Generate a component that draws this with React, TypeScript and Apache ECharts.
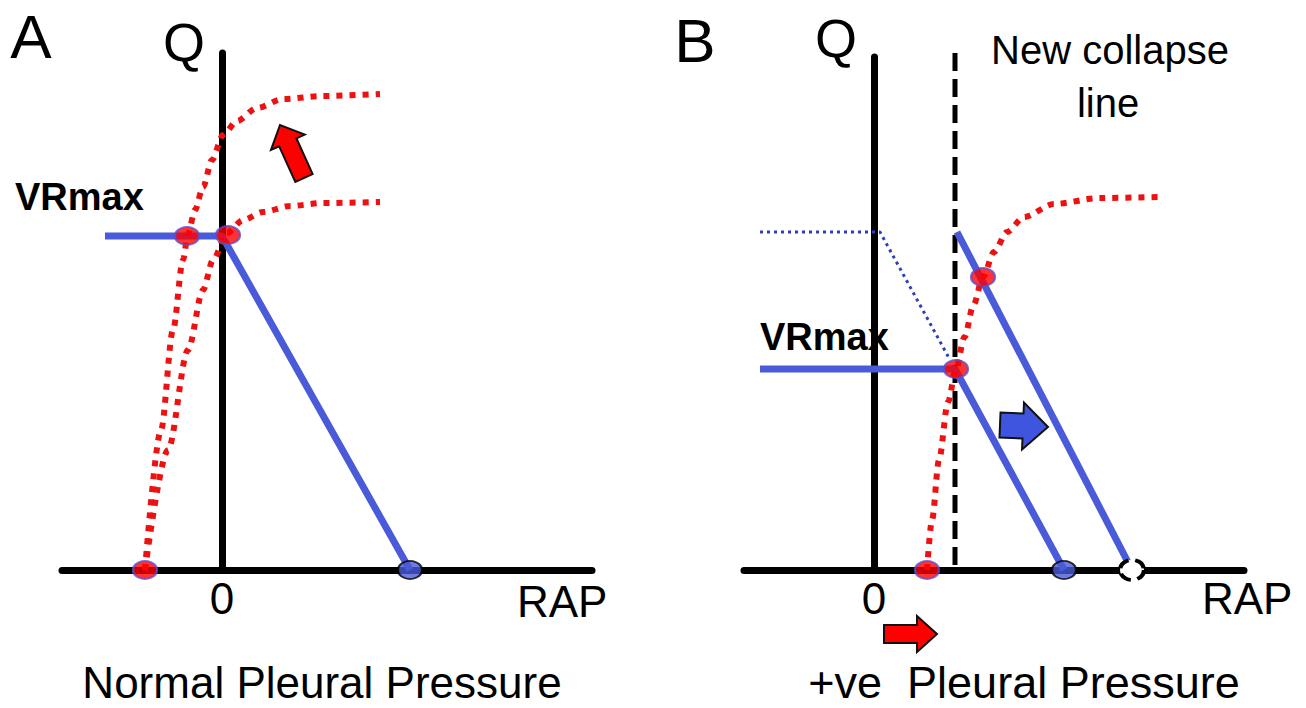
import React, { useEffect, useRef } from "react";
import * as echarts from "echarts";

const BLUE = "#4a5bd9";
const RED = "#ee1111";
const FONT = "'Liberation Sans', Arial, sans-serif";

// ---------- Panel A (units: RAP along x, Q along y) ----------
const aUpperCurve = [
  [-7.7, 0], [-6.1, 14], [-4.9, 24], [-3.9, 31], [-3.4, 33.6], [-2.7, 36],
  [-1.9, 38.3], [-1.0, 41], [0.1, 43.5], [1.5, 44.9], [3.5, 46.2], [6.1, 47.1], [10.1, 47.4], [15.8, 47.6],
];
const aLowerCurve = [
  [-7.7, 0], [-5.4, 12], [-3.4, 22], [-1.9, 28], [-0.9, 31], [0.5, 33.7], [2.1, 35],
  [4.1, 35.8], [6.8, 36.4], [10.1, 36.7], [15.8, 36.8],
];
const aVenousReturn = [[-11.7, 33.4], [0, 33.4], [18.8, 0]];
const aRedDots = [[-3.5, 33.4], [0.6, 33.5], [-7.7, 0]];
const aBlueDots = [[18.8, 0]];
const aArrowTail = [8.2, 39.2];
const aArrowTip = [5.8, 44.5];

// ---------- Panel B ----------
const bCollapseLine = [[8.1, 51.7], [8.1, 0]];
const bOldReturn = [[-11.4, 33.8], [0.6, 33.8], [7.5, 21.2]];
const bReturn1 = [[-11.4, 20.1], [8.1, 20.1], [19.0, 0]];
const bReturn2 = [[8.3, 33.8], [25.8, 0]];
const bCardiacCurve = [
  [5.3, 0], [5.8, 5], [6.5, 11], [7.4, 16.8], [8.2, 20.1], [9.05, 23.3], [9.95, 26.5], [10.9, 29.3],
  [12.0, 31.8], [13.3, 33.8], [15.0, 35.3], [18.0, 36.6], [22.6, 37.2], [28.6, 37.3],
];
const bRedDots = [[5.3, 0], [8.2, 20.1], [10.9, 29.3]];
const bBlueDots = [[19.0, 0]];
const bOpenDots = [[25.8, 0]];
const bBlueArrowTail = [12.6, 14.5];
const bBlueArrowTip = [17.4, 14.3];
const bRedArrowTail = [1.0, -6.4];
const bRedArrowTip = [6.3, -6.4];

const xTickLabels = ["0"];

function arrowPoly(t: number[], p: number[], shaftW: number, headW: number, headL: number) {
  const dx = p[0] - t[0], dy = p[1] - t[1];
  const L = Math.hypot(dx, dy);
  const ux = dx / L, uy = dy / L;
  const nx = -uy, ny = ux;
  const bx = p[0] - ux * headL, by = p[1] - uy * headL;
  const pt = (x: number, y: number, s: number) => [x + nx * s, y + ny * s];
  return [
    pt(t[0], t[1], shaftW / 2), pt(bx, by, shaftW / 2), pt(bx, by, headW / 2), [p[0], p[1]],
    pt(bx, by, -headW / 2), pt(bx, by, -shaftW / 2), pt(t[0], t[1], -shaftW / 2),
  ];
}

const dotted = (color: string, width: number, dash: number[]) => ({ color, width, type: dash, cap: "butt" });

export default function App() {
  const ref = useRef<HTMLDivElement>(null);
  useEffect(() => {
    if (!ref.current) return;
    const chart = echarts.init(ref.current, null, { renderer: "svg" });
    const axisLine = { show: true, onZero: true, lineStyle: { color: "#000", width: 7 } };
    const xLabel = {
      show: true, margin: 6, fontSize: 44, color: "#000", fontFamily: FONT,
      formatter: (v: number) => (xTickLabels.includes(String(v)) ? String(v) : ""),
    };
    const lineS = (xi: number, data: number[][], ls: any, extra: any = {}) => ({
      type: "line", xAxisIndex: xi, yAxisIndex: xi, data, symbol: "none", lineStyle: ls, z: 3, ...extra,
    });
    const dotS = (xi: number, data: number[][], itemStyle: any, size: number[] = [24, 18]) => ({
      type: "scatter", xAxisIndex: xi, yAxisIndex: xi, data, symbol: "circle", symbolSize: size, itemStyle, z: 6,
    });
    chart.setOption({
      animation: false,
      backgroundColor: "#fff",
      grid: [
        { left: 62, top: 53, width: 530, height: 517, outerBoundsMode: "none" },
        { left: 744, top: 57, width: 500, height: 513, outerBoundsMode: "none" },
      ],
      xAxis: [
        { gridIndex: 0, type: "value", min: -16, max: 37, interval: 8, axisLine, axisTick: { show: false }, splitLine: { show: false }, axisLabel: xLabel },
        { gridIndex: 1, type: "value", min: -13, max: 37, interval: 13, axisLine, axisTick: { show: false }, splitLine: { show: false }, axisLabel: xLabel },
      ],
      yAxis: [
        { gridIndex: 0, type: "value", min: 0, max: 51.7, axisLine, axisTick: { show: false }, splitLine: { show: false }, axisLabel: { show: false } },
        { gridIndex: 1, type: "value", min: 0, max: 51.3, axisLine, axisTick: { show: false }, splitLine: { show: false }, axisLabel: { show: false } },
      ],
      series: [
        lineS(0, aVenousReturn, { color: BLUE, width: 7 }),
        lineS(0, aUpperCurve, dotted(RED, 6, [6, 7]), { smooth: 0.3, smoothMonotone: "x", z: 4 }),
        lineS(0, aLowerCurve, dotted(RED, 6, [6, 7]), { smooth: 0.3, smoothMonotone: "x", z: 4 }),
        dotS(0, aRedDots, { color: "#ff0000", borderColor: "#5a4fd0", borderWidth: 2 }),
        dotS(0, aBlueDots, { color: BLUE, borderColor: "#000", borderWidth: 2 }),

        lineS(1, bCollapseLine, { color: "#000", width: 5, type: [18, 8] }, { clip: false }),
        lineS(1, bOldReturn, dotted("#2e3fb8", 3, [3, 4])),
        lineS(1, bReturn1, { color: BLUE, width: 7 }),
        lineS(1, bReturn2, { color: BLUE, width: 7 }),
        lineS(1, bCardiacCurve, dotted(RED, 6, [6, 7]), { smooth: 0.3, smoothMonotone: "x", z: 4 }),
        dotS(1, bRedDots, { color: "#ff0000", borderColor: "#5a4fd0", borderWidth: 2 }),
        dotS(1, bBlueDots, { color: BLUE, borderColor: "#000", borderWidth: 2 }),
        dotS(1, bOpenDots, { color: "#ffffff", borderColor: "#000000", borderWidth: 4, borderType: [12, 6], opacity: 1 }, [24, 20]),
      ],
    });

    const px = (gi: number, p: number[]) => chart.convertToPixel({ gridIndex: gi } as any, p) as number[];
    const arrow = (gi: number, t: number[], p: number[], sw: number, hw: number, hl: number, fill: string) => ({
      type: "polygon", z: 10,
      shape: { points: arrowPoly(px(gi, t), px(gi, p), sw, hw, hl) },
      style: { fill, stroke: "#111", lineWidth: 2 },
    });
    const txt = (text: string, x: number, y: number, fontSize: number, align = "center", fontWeight = "normal") => ({
      type: "text", x, y, z: 10,
      style: { text, fontSize, lineHeight: fontSize, fontFamily: FONT, fontWeight, fill: "#000", align, verticalAlign: "middle" },
    });

    chart.setOption({
      graphic: [
        arrow(0, aArrowTail, aArrowTip, 19, 37, 19, "#ff0000"),
        arrow(1, bBlueArrowTail, bBlueArrowTip, 25, 47, 25, "#3f55e0"),
        arrow(1, bRedArrowTail, bRedArrowTip, 18, 36, 20, "#ff0000"),
        txt("A", 31, 36, 62),
        txt("Q", 184, 42, 54),
        txt("B", 695, 40, 62),
        txt("Q", 836, 38, 54),
        txt("RAP", 517, 601, 44, "left"),
        txt("RAP", 1202, 598, 44, "left"),
        txt("VRmax", 15, 197, 38, "left", "bold"),
        txt("VRmax", 760, 337, 38, "left", "bold"),
        txt("New collapse", 1110, 50, 40),
        txt("line", 1108, 103, 40),
        txt("Normal Pleural Pressure", 322, 682, 44),
        txt("+ve  Pleural Pressure", 1024, 682, 45),
      ],
    });
    return () => chart.dispose();
  }, []);
  return <div ref={ref} style={{ position: "fixed", left: 0, top: 0, width: 1306, height: 708, background: "#fff" }} />;
}
